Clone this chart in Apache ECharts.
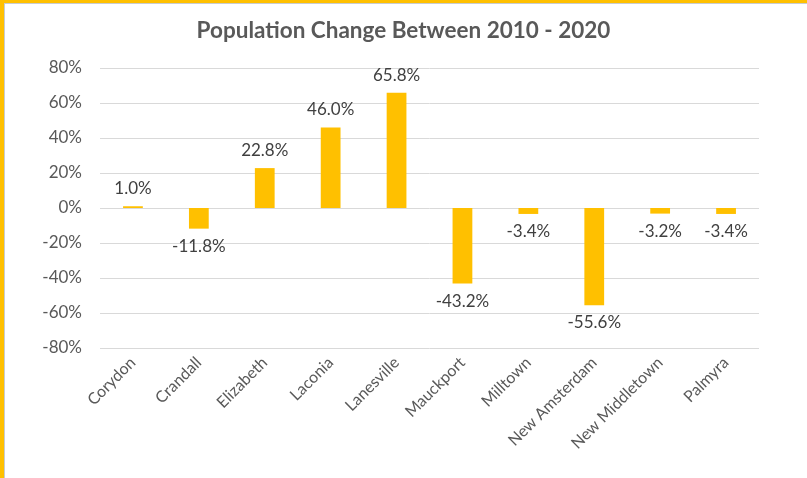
<!DOCTYPE html>
<html>
<head>
<meta charset="utf-8">
<script src="https://cdn.jsdelivr.net/npm/echarts@6/dist/echarts.min.js"></script>
<style>
  html, body { margin: 0; padding: 0; background: #fff; }
  #chart { width: 807px; height: 478px; }
</style>
</head>
<body>
<div id="chart"></div>
<script>
// towns and percent change 2010 -> 2020
const towns = ['Corydon', 'Crandall', 'Elizabeth', 'Laconia', 'Lanesville',
  'Mauckport', 'Milltown', 'New Amsterdam', 'New Middletown', 'Palmyra'];
const change = [1.0, -11.8, 22.8, 46.0, 65.8, -43.2, -3.4, -55.6, -3.2, -3.4];
const yMin = -80, yMax = 80, yStep = 20;

const font = 'Lato, "Open Sans", sans-serif';
const gold = '#FFC000';

const chart = echarts.init(document.getElementById('chart'));

const barData = change.map(v => ({
  value: v,
  label: { position: v < 0 ? 'bottom' : 'top' }
}));

chart.setOption({
  animation: false,
  backgroundColor: '#fff',
  title: {
    text: 'Population Change Between 2010 - 2020',
    left: 'center',
    top: 14,
    textStyle: { fontFamily: font, fontSize: 22.5, fontWeight: 'bold', color: '#595959' }
  },
  graphic: [
    { type: 'rect', shape: { x: 0, y: 0, width: 807, height: 3 }, style: { fill: gold } },
    { type: 'rect', shape: { x: 0, y: 0, width: 4, height: 478 }, style: { fill: gold } },
    { type: 'rect', shape: { x: 4, y: 3, width: 803, height: 1 }, style: { fill: '#c8ccd0' } },
    { type: 'rect', shape: { x: 4, y: 3, width: 1, height: 475 }, style: { fill: '#c8ccd0' } }
  ],
  grid: { left: 100, right: 48, top: 68, bottom: 130, containLabel: false, outerBoundsMode: 'none' },
  xAxis: {
    type: 'category',
    data: towns,
    axisLine: { show: false },
    axisTick: { show: false },
    axisLabel: {
      rotate: 45,
      interval: 0,
      margin: 12,
      fontFamily: font,
      fontSize: 16,
      color: '#595959'
    }
  },
  yAxis: {
    type: 'value',
    min: yMin,
    max: yMax,
    interval: yStep,
    axisLine: { show: false },
    axisTick: { show: false },
    splitLine: { lineStyle: { color: '#d9d9d9', width: 1 } },
    axisLabel: {
      margin: 18,
      fontFamily: font,
      fontSize: 17,
      color: '#595959',
      formatter: v => v + '%'
    }
  },
  series: [{
    type: 'bar',
    data: barData,
    barWidth: '30%',
    itemStyle: { color: gold },
    label: {
      show: true,
      distance: 9,
      fontFamily: font,
      fontSize: 17,
      color: '#404040',
      formatter: p => p.value.toFixed(1) + '%'
    }
  }]
});
</script>
</body>
</html>
